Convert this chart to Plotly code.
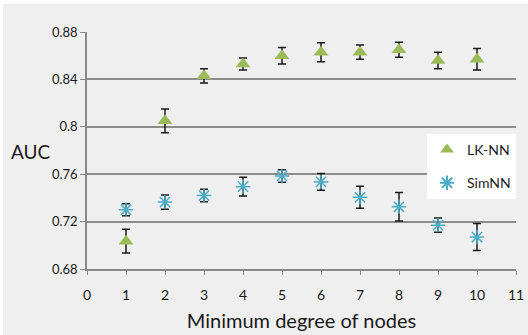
import plotly.graph_objects as go

degrees = [1, 2, 3, 4, 5, 6, 7, 8, 9, 10]
lknn_auc = [0.7035, 0.805, 0.843, 0.853, 0.860, 0.863, 0.863, 0.865, 0.856, 0.857]
lknn_err = [0.010, 0.010, 0.006, 0.005, 0.007, 0.008, 0.006, 0.0063, 0.007, 0.009]
simnn_auc = [0.730, 0.7365, 0.742, 0.7495, 0.7585, 0.7535, 0.7405, 0.7325, 0.717, 0.707]
simnn_err = [0.005, 0.006, 0.0053, 0.008, 0.0053, 0.007, 0.0093, 0.012, 0.006, 0.0113]
x_ticks = list(range(0, 12))
y_ticks = [0.68, 0.72, 0.76, 0.80, 0.84, 0.88]
y_tick_labels = ["0.68", "0.72", "0.76", "0.8", "0.84", "0.88"]

FONT = "Lato"
W, H = 528, 335
L, R, T, B = 87, 12, 32, 66
pw, ph = W - L - R, H - T - B

fig = go.Figure()
fig.add_trace(go.Scatter(
    x=degrees, y=lknn_auc, mode="markers", name="LK-NN", legendgroup="a",
    marker=dict(symbol="triangle-up", size=13, color="#9bbb59"),
    error_y=dict(type="data", array=lknn_err, color="#1a1a1a", thickness=1.5, width=4),
))
fig.add_trace(go.Scatter(
    x=degrees, y=simnn_auc, mode="markers", name="SimNN", legendgroup="b",
    marker=dict(symbol="asterisk-open", size=12, color="#4bacc6",
                line=dict(color="#4bacc6", width=1.5)),
    error_y=dict(type="data", array=simnn_err, color="#1a1a1a", thickness=1.5, width=4),
))

fig.add_shape(type="rect", xref="paper", yref="paper", layer="below",
              x0=(3 - L) / pw, x1=(W - L) / pw,
              y0=(H - B - H) / ph, y1=(H - B - 4) / ph,
              fillcolor="#efefef", line=dict(width=0))

fig.update_layout(
    width=W, height=H,
    margin=dict(l=L, r=R, t=T, b=B),
    paper_bgcolor="white", plot_bgcolor="rgba(0,0,0,0)",
    font=dict(family=FONT, size=13, color="#1a1a1a"),
    showlegend=True,
    legend=dict(x=1.0, y=(H - B - 134) / ph, xanchor="right", yanchor="top",
                bgcolor="white", font=dict(size=14, family=FONT),
                itemsizing="constant", tracegroupgap=12, itemwidth=30,
                borderwidth=0),
    annotations=[dict(text="AUC", xref="paper", yref="paper",
                      x=(9 - L) / pw, y=(H - B - 151) / ph,
                      xanchor="left", yanchor="middle", showarrow=False,
                      font=dict(size=19, family=FONT, color="#1a1a1a"))],
)
fig.update_xaxes(
    range=[0, 11], tickmode="array", tickvals=x_ticks, ticktext=[str(v) for v in x_ticks],
    showgrid=False, zeroline=False, showline=True, linecolor="#888888", linewidth=1.5,
    ticks="outside", ticklen=4, tickcolor="#888888", tickfont=dict(size=14),
    ticklabelstandoff=8, automargin=False,
    title=dict(text="Minimum degree of nodes", font=dict(size=20, family=FONT), standoff=12),
)
fig.update_yaxes(
    range=[0.68, 0.88], tickmode="array", tickvals=y_ticks, ticktext=y_tick_labels,
    showgrid=True, gridcolor="#8c8c8c", gridwidth=1.5, zeroline=False,
    showline=True, linecolor="#888888", linewidth=1.5, automargin=False,
    ticks="outside", ticklen=5, tickcolor="#888888", tickfont=dict(size=13),
)

fig.write_html("out.html", config={"displayModeBar": False},
               post_script="document.body.style.margin='0';")
